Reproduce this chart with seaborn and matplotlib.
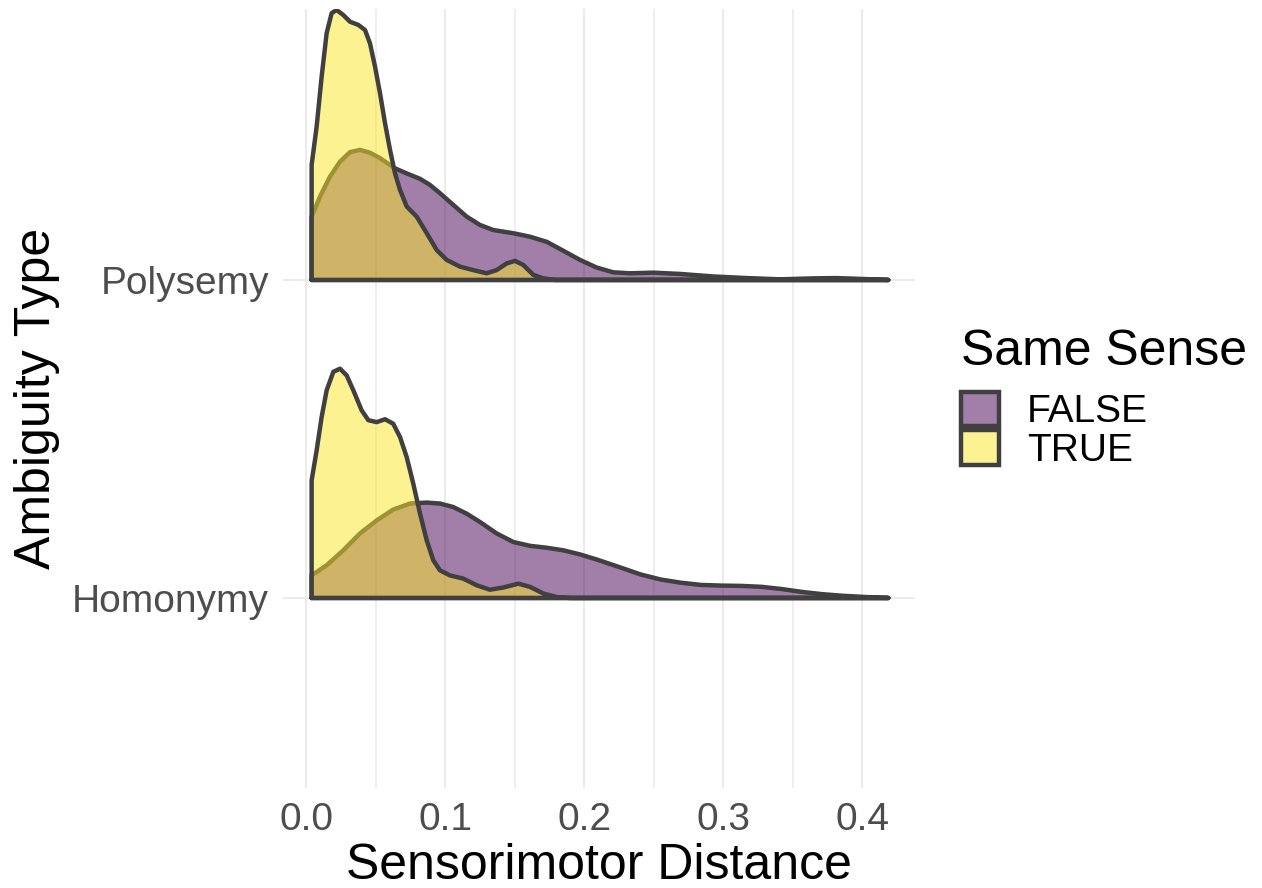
import numpy as np
import pandas as pd
import matplotlib
matplotlib.use("Agg")
import matplotlib.pyplot as plt
from matplotlib.patches import Patch
import seaborn as sns

# ridge categories (bottom to top) and fill groups
ambiguity_types = ["Homonymy", "Polysemy"]
same_sense = ["FALSE", "TRUE"]
fill_colors = {"FALSE": "#440154", "TRUE": "#FDE725"}

# density outlines (x = distance, h = ridge height)
poly_false_x = [0.0037, 0.0097, 0.0169, 0.0241, 0.0313, 0.0385, 0.0457, 0.0529, 0.0637, 0.0721,
                0.0817, 0.0888, 0.0960, 0.1056, 0.1153, 0.1248, 0.1344, 0.1488, 0.1608, 0.1728,
                0.1847, 0.1968, 0.2088, 0.2207, 0.2327, 0.2495, 0.2687, 0.2927, 0.3167, 0.3406,
                0.3646, 0.3814, 0.4006, 0.4186]
poly_false_h = [0.199, 0.262, 0.325, 0.372, 0.402, 0.409, 0.400, 0.383, 0.351, 0.335,
                0.318, 0.299, 0.273, 0.236, 0.199, 0.173, 0.157, 0.147, 0.136, 0.120,
                0.092, 0.063, 0.039, 0.024, 0.021, 0.023, 0.019, 0.011, 0.006, 0.002,
                0.005, 0.006, 0.003, 0.0]

poly_true_x = [0.0037, 0.0073, 0.0109, 0.0145, 0.0181, 0.0217, 0.0265, 0.0313, 0.0373, 0.0421,
               0.0457, 0.0493, 0.0529, 0.0565, 0.0601, 0.0637, 0.0673, 0.0721, 0.0793, 0.0865,
               0.0937, 0.1009, 0.1104, 0.1200, 0.1296, 0.1368, 0.1440, 0.1500, 0.1560, 0.1632,
               0.1704, 0.1790, 0.2500, 0.4186]
poly_true_h = [0.362, 0.482, 0.639, 0.776, 0.839, 0.849, 0.833, 0.812, 0.802, 0.786,
               0.744, 0.671, 0.587, 0.493, 0.409, 0.335, 0.283, 0.231, 0.199, 0.147,
               0.094, 0.063, 0.042, 0.031, 0.021, 0.031, 0.052, 0.060, 0.047, 0.016,
               0.005, 0.0, 0.0, 0.0]

homo_false_x = [0.0037, 0.0145, 0.0265, 0.0385, 0.0505, 0.0624, 0.0745, 0.0865, 0.0960, 0.1056,
                0.1153, 0.1248, 0.1368, 0.1488, 0.1608, 0.1728, 0.1847, 0.1968, 0.2088, 0.2258,
                0.2404, 0.2549, 0.2694, 0.2840, 0.2985, 0.3130, 0.3276, 0.3421, 0.3566, 0.3711,
                0.3857, 0.4027, 0.4186]
homo_false_h = [0.071, 0.103, 0.150, 0.203, 0.244, 0.278, 0.297, 0.300, 0.297, 0.286,
                0.265, 0.239, 0.203, 0.176, 0.164, 0.158, 0.150, 0.137, 0.121, 0.096,
                0.074, 0.058, 0.048, 0.041, 0.039, 0.038, 0.035, 0.028, 0.019, 0.012,
                0.007, 0.003, 0.0]

homo_true_x = [0.0037, 0.0073, 0.0109, 0.0145, 0.0193, 0.0241, 0.0289, 0.0337, 0.0397, 0.0445,
               0.0505, 0.0565, 0.0624, 0.0673, 0.0721, 0.0768, 0.0817, 0.0865, 0.0912, 0.0960,
               0.1032, 0.1128, 0.1224, 0.1320, 0.1416, 0.1524, 0.1608, 0.1704, 0.1800, 0.1900,
               0.2500, 0.4186]
homo_true_h = [0.370, 0.464, 0.569, 0.653, 0.711, 0.721, 0.700, 0.653, 0.590, 0.559,
               0.553, 0.562, 0.548, 0.506, 0.443, 0.360, 0.265, 0.181, 0.119, 0.087,
               0.071, 0.061, 0.040, 0.026, 0.033, 0.045, 0.035, 0.014, 0.003, 0.0,
               0.0, 0.0]

x_ticks = [0.0, 0.1, 0.2, 0.3, 0.4]
x_tick_labels = ["0.0", "0.1", "0.2", "0.3", "0.4"]

curves = {
    ("Polysemy", "FALSE"): (poly_false_x, poly_false_h),
    ("Polysemy", "TRUE"): (poly_true_x, poly_true_h),
    ("Homonymy", "FALSE"): (homo_false_x, homo_false_h),
    ("Homonymy", "TRUE"): (homo_true_x, homo_true_h),
}

sns.set_theme(style="white")
plt.rcParams["font.family"] = ["Liberation Sans", "DejaVu Sans"]
plt.rcParams["text.color"] = "black"
plt.rcParams["axes.labelcolor"] = "black"

line_col = "#404040"
grid_col = "#ebebeb"

fig = plt.figure(figsize=(12.62, 8.88), dpi=100)
ax = fig.add_axes([283 / 1262, 1 - 788 / 888, (915 - 283) / 1262, (788 - 9) / 888])

z = 2
for i, amb in enumerate(ambiguity_types):
    base = i + 1
    for grp in same_sense:
        xs, hs = curves[(amb, grp)]
        xs = np.array(xs)
        ys = base + np.array(hs)
        ax.fill_between(xs, base, ys, color=fill_colors[grp], alpha=0.5, lw=0, zorder=z)
        # outline: left edge, curve, then back along the baseline
        df = pd.DataFrame({
            "x": np.concatenate([[xs[0]], xs, [xs[-1], xs[0]]]),
            "y": np.concatenate([[base], ys, [base, base]]),
        })
        sns.lineplot(data=df, x="x", y="y", sort=False, estimator=None, ax=ax,
                     color=line_col, lw=3.2, solid_joinstyle="round",
                     solid_capstyle="round", zorder=z + 0.5)
        z += 1

ax.set_xlim(-0.0169, 0.4378)
ax.set_ylim(0.4025, 2.852)
ax.set_xticks(x_ticks)
ax.set_xticklabels(x_tick_labels)
ax.set_xticks([0.05, 0.15, 0.25, 0.35], minor=True)
ax.set_yticks([1, 2])
ax.set_yticklabels(ambiguity_types)
ax.grid(axis="x", which="major", color=grid_col, lw=1.5)
ax.grid(axis="x", which="minor", color=grid_col, lw=1.2)
ax.grid(axis="y", which="major", color=grid_col, lw=1.5)
ax.set_axisbelow(True)
for s in ax.spines.values():
    s.set_visible(False)
ax.tick_params(axis="both", which="both", length=0, labelsize=28, labelcolor="#4d4d4d")
ax.tick_params(axis="x", pad=10)
ax.tick_params(axis="y", pad=10)
ax.set_xlabel("Sensorimotor Distance", fontsize=36, color="black", labelpad=4)
ax.set_ylabel("Ambiguity Type", fontsize=36, color="black", labelpad=9)

handles = [Patch(facecolor=matplotlib.colors.to_rgba(fill_colors[g], 0.5),
                 edgecolor=line_col, lw=3.2) for g in same_sense]
leg = ax.legend(handles, same_sense, title="Same Sense", loc="center left",
                bbox_to_anchor=(961 / 1262, 1 - 399 / 888), bbox_transform=fig.transFigure,
                frameon=False, fontsize=28, title_fontsize=36, borderpad=0,
                borderaxespad=0, handlelength=0.98, handleheight=1.0,
                labelspacing=0.0, handletextpad=0.72, alignment="left")
leg._legend_box.sep = 12
for t in leg.get_texts():
    t.set_color("black")
leg.get_title().set_color("black")

fig.savefig("out.png", dpi=100)
